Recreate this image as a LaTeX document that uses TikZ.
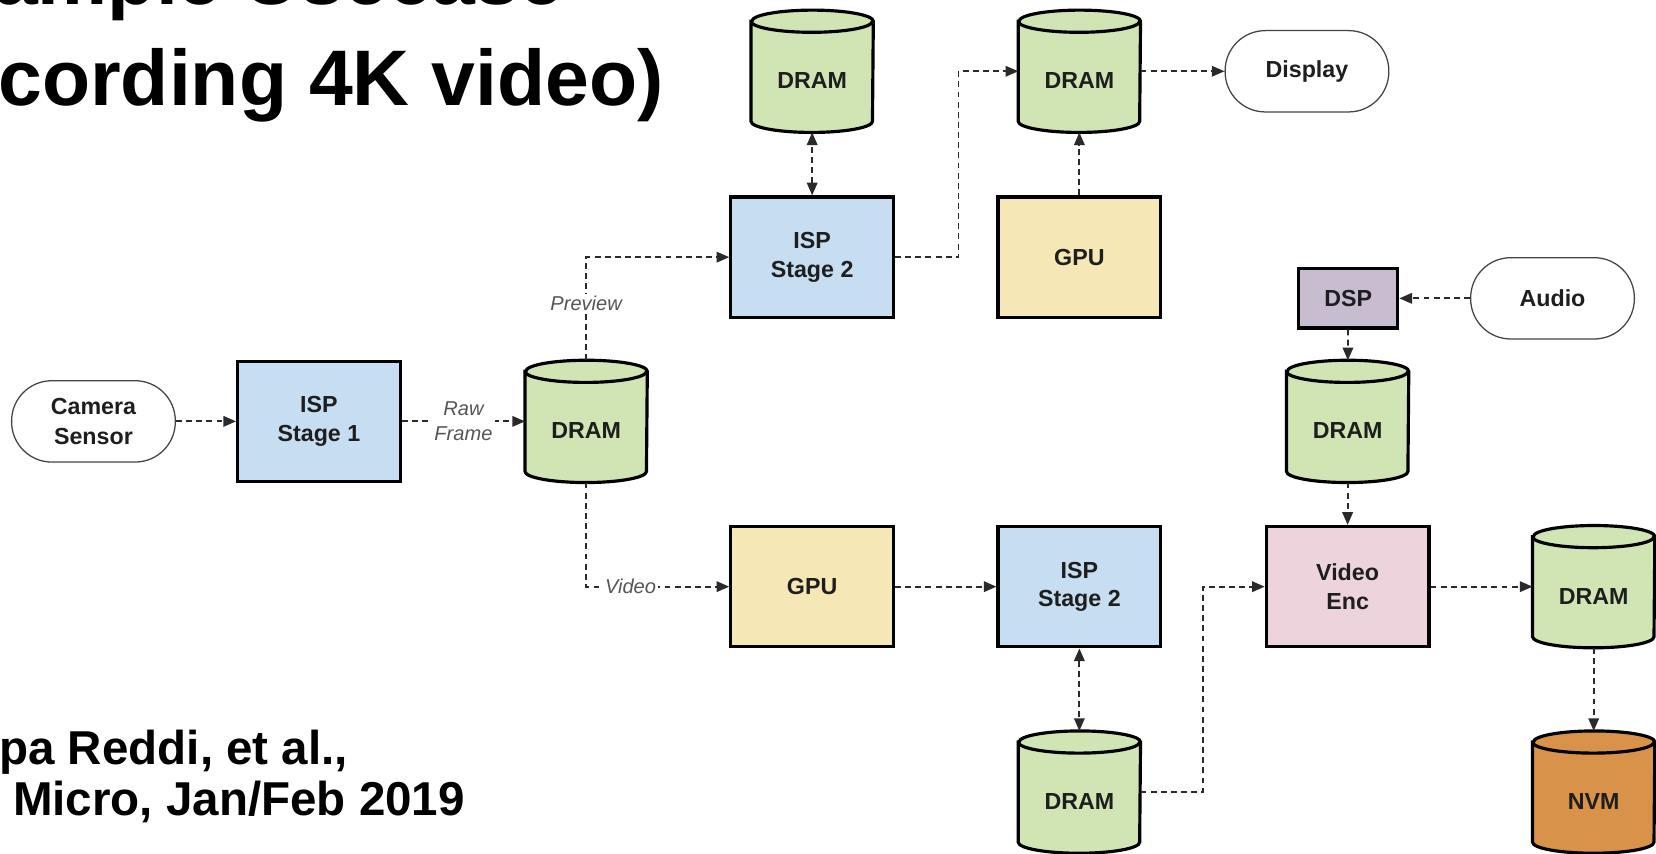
\documentclass[tikz,border=0pt]{standalone}
\usepackage{fontspec}
\setmainfont{Liberation Sans}
\usetikzlibrary{arrows.meta,backgrounds}

\definecolor{ispblue}{HTML}{C7DDF1}
\definecolor{dramgreen}{HTML}{D1E4B4}
\definecolor{gpuyellow}{HTML}{F6E8B6}
\definecolor{dsppurple}{HTML}{C8BCD0}
\definecolor{encpink}{HTML}{EDD3DC}
\definecolor{nvmorange}{HTML}{D9924A}
\definecolor{nodetext}{HTML}{1E1E1E}
\definecolor{linkgray}{HTML}{2A2A2A}
\definecolor{labelgray}{HTML}{555555}
\definecolor{termgray}{HTML}{444444}

\tikzset{
  box/.style={draw=black, line width=1.5pt, minimum width=77pt, minimum height=57pt,
    inner sep=0pt, align=center, text=nodetext,
    font=\bfseries\fontsize{11}{13.5}\selectfont},
  smallbox/.style={box, minimum width=47pt, minimum height=28pt},
  term/.style={draw=termgray, line width=0.6pt, fill=white, rounded corners=19pt,
    minimum width=77.5pt, minimum height=38.5pt, inner sep=0pt, align=center,
    text=nodetext, font=\bfseries\fontsize{11}{14.5}\selectfont},
  store/.style={rectangle, minimum width=57.5pt, minimum height=57.5pt, inner sep=0pt,
    text height=16.5pt, text depth=0pt, text=nodetext,
    font=\bfseries\fontsize{11}{13.5}\selectfont},
  lbl/.style={font=\itshape\fontsize{9.5}{12}\selectfont, text=labelgray, fill=white,
    inner sep=1pt, align=center},
  link/.style={draw=linkgray, line width=0.85pt, dash pattern=on 2.8pt off 2pt,
    -{Triangle[length=6pt,width=5pt]}},
  twoway/.style={draw=linkgray, line width=0.85pt, dash pattern=on 2.8pt off 2pt,
    {Triangle[length=6pt,width=5pt]}-{Triangle[length=6pt,width=5pt]}},
  headline/.style={inner sep=0pt, anchor=base west, text=black,
    font=\bfseries\fontsize{37.3}{40}\selectfont},
  source/.style={inner sep=0pt, anchor=base west, text=black,
    font=\bfseries\fontsize{22.5}{24}\selectfont},
}

% storage cylinder drawn behind a store node
\newcommand\storecyl[2]{%
  \begin{scope}[on background layer]
    \filldraw[fill=#2, draw=black, line width=1.5pt]
      ([yshift=-5.25pt]#1.north west) -- ([yshift=5.25pt]#1.south west)
      arc[start angle=180, end angle=360, x radius=28.75pt, y radius=5.25pt]
      -- ([yshift=-5.25pt]#1.north east)
      arc[start angle=0, end angle=180, x radius=28.75pt, y radius=5.25pt] -- cycle;
    \draw[line width=1.5pt] ([yshift=-5.25pt]#1.north west)
      arc[start angle=180, end angle=360, x radius=28.75pt, y radius=5.25pt];
  \end{scope}}

\begin{document}
\begin{tikzpicture}[x=0.5pt, y=0.5pt]
\useasboundingbox (0,0) rectangle (1568,808);
\clip (0,0) rectangle (1568,808);

% heading and source lines
\node[headline] (headA) at (-6,804) {ample Usecase};
\node[headline] (headB) at (-2,708) {cording 4K video)};
\node[source] (srcA) at (-1,84) {pa Reddi, et al.,};
\node[source] (srcB) at (12,36) {Micro, Jan/Feb 2019};

% processing blocks
\node[term] (cam) at (88.5,409) {Camera\\Sensor};
\node[box, fill=ispblue] (isp1) at (302,409) {ISP\\Stage 1};
\node[box, fill=ispblue] (isp2a) at (769,564.5) {ISP\\Stage 2};
\node[box, fill=gpuyellow] (gpu1) at (1022,564.5) {GPU};
\node[term] (disp) at (1237.5,740.5) {Display};
\node[smallbox, fill=dsppurple] (dsp) at (1276.5,525.5) {DSP};
\node[term] (audio) at (1470,525.5) {Audio};
\node[box, fill=gpuyellow] (gpu2) at (769,252.5) {GPU};
\node[box, fill=ispblue] (isp2b) at (1022,252.5) {ISP\\Stage 2};
\node[box, fill=encpink] (venc) at (1276,252.5) {Video\\Enc};

% memories
\node[store] (dram1) at (555,409) {DRAM};
\node[store] (dram2) at (769,740.5) {DRAM};
\node[store] (dram3) at (1022,740.5) {DRAM};
\node[store] (dram4) at (1276,409) {DRAM};
\node[store] (dram5) at (1509,252.5) {DRAM};
\node[store] (dram6) at (1022,58) {DRAM};
\node[store] (nvm) at (1509,58) {NVM};
\storecyl{dram1}{dramgreen}
\storecyl{dram2}{dramgreen}
\storecyl{dram3}{dramgreen}
\storecyl{dram4}{dramgreen}
\storecyl{dram5}{dramgreen}
\storecyl{dram6}{dramgreen}
\storecyl{nvm}{nvmorange}

% data flow
\draw[link] (cam) -- (isp1);
\draw[link] (isp1) -- node[lbl] {Raw\\Frame} (dram1);
\draw[link] (dram1) |- node[lbl, pos=0.275] {Preview} (isp2a);
\draw[link] (dram1) |- node[lbl, pos=0.655] {Video} (gpu2);
\draw[twoway] (isp2a) -- (dram2);
\draw[link] (isp2a.east) -- ++(60,0) |- (dram3.west);
\draw[link] (gpu1) -- (dram3);
\draw[link] (dram3) -- (disp);
\draw[link] (audio) -- (dsp);
\draw[link] (dsp) -- (dram4);
\draw[link] (dram4) -- (venc);
\draw[link] (gpu2) -- (isp2b);
\draw[twoway] (isp2b) -- (dram6);
\draw[link] (dram6.east) -- ++(59,0) |- (venc.west);
\draw[link] (venc) -- (dram5);
\draw[link] (dram5) -- (nvm);
\end{tikzpicture}
\end{document}
